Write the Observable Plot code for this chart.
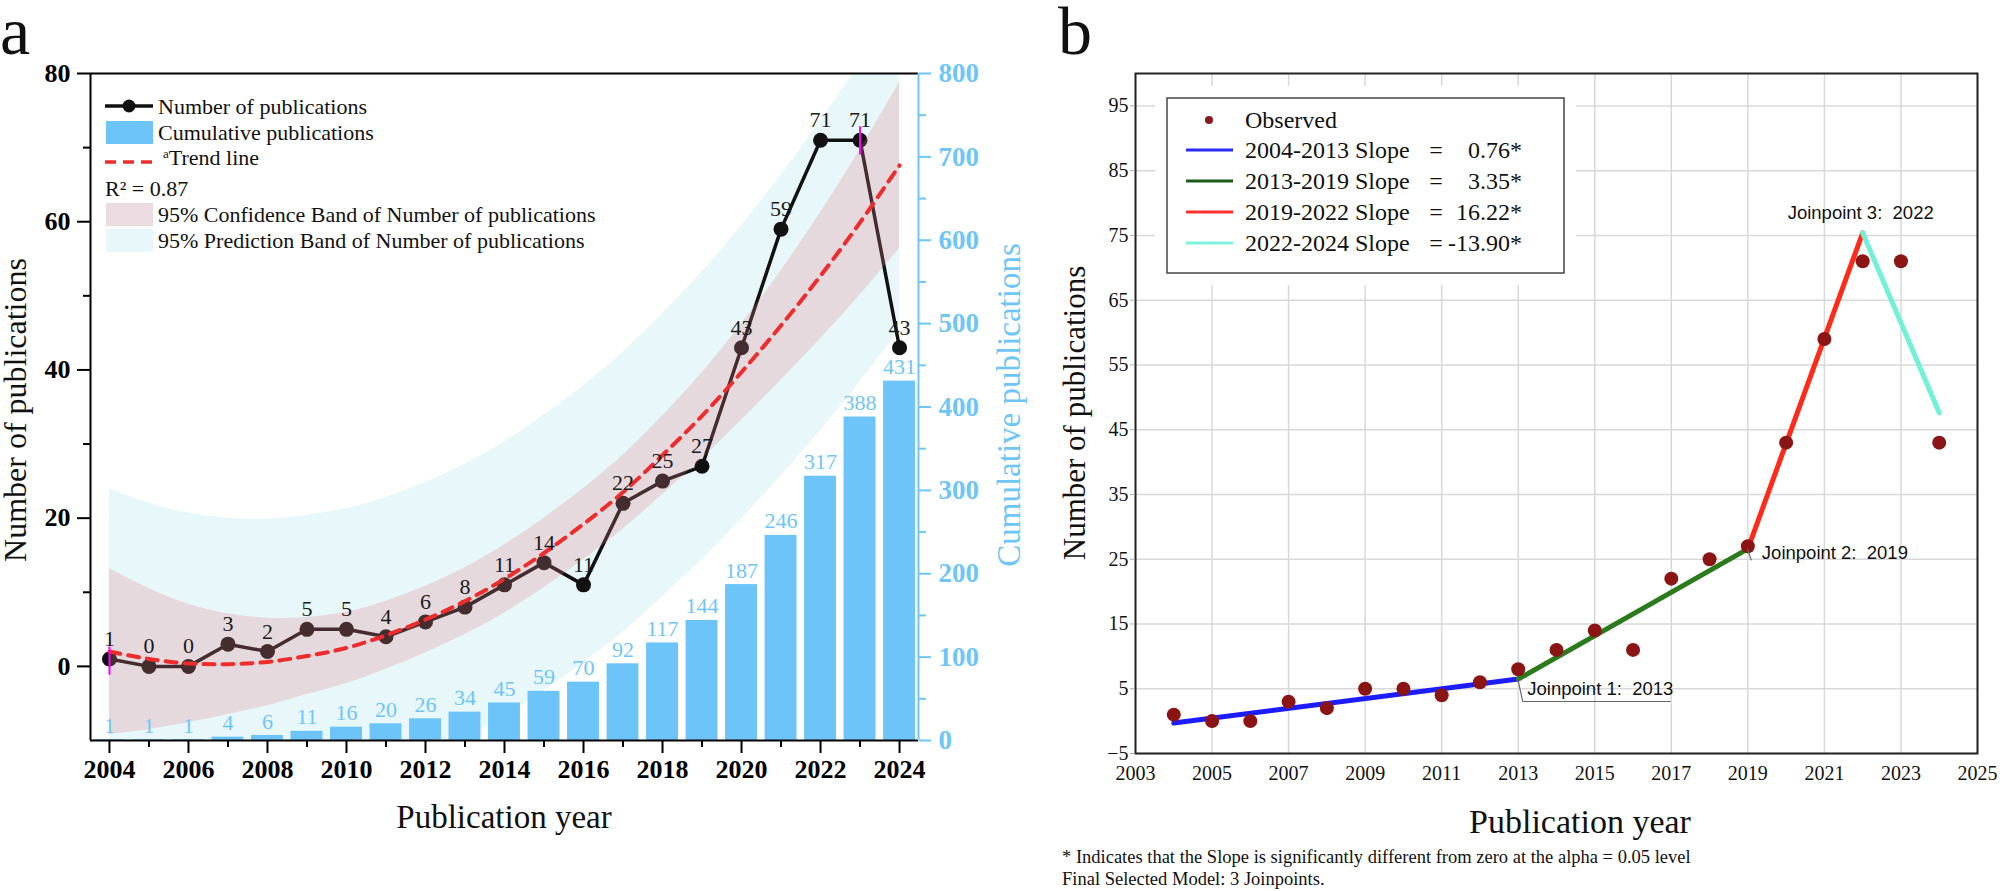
<!DOCTYPE html>
<html><head><meta charset="utf-8">
<script src="https://cdn.jsdelivr.net/npm/d3@7"></script>
<script src="https://cdn.jsdelivr.net/npm/@observablehq/plot@0.6"></script>
<style>
html,body{margin:0;padding:0;background:#fff;}
#wrap{position:relative;width:2000px;height:891px;overflow:hidden;background:#fff;}
#wrap > svg{position:absolute;top:0;margin:0;}
</style></head><body>
<div id="wrap"></div>
<script>
// ---------- data (panel a) ----------
const years = [2004,2005,2006,2007,2008,2009,2010,2011,2012,2013,2014,2015,2016,2017,2018,2019,2020,2021,2022,2023,2024];
const publications = [1,0,0,3,2,5,5,4,6,8,11,14,11,22,25,27,43,59,71,71,43];
const cumulative = [1,1,1,4,6,11,16,20,26,34,45,59,70,92,117,144,187,246,317,388,431];
const trend = [2.0,1.0,0.4,0.3,0.6,1.4,2.5,4.2,6.3,8.8,11.8,15.3,19.2,23.5,28.5,33.8,39.7,46.0,52.7,59.9,67.6];
const confLower = [-9.2,-8.5,-7.6,-6.5,-5.3,-3.8,-2.3,-0.4,1.8,4.3,7.2,10.6,14.4,18.5,23.2,28.0,33.2,38.6,44.2,50.1,56.4];
const confUpper = [13.2,10.5,8.4,7.1,6.5,6.6,7.3,8.8,10.8,13.3,16.4,20.0,24.0,28.5,33.8,39.6,46.2,53.4,61.2,69.7,78.8];
const predLower = [-20.0,-20.0,-19.9,-19.4,-18.7,-17.6,-16.3,-14.4,-12.2,-9.7,-6.7,-3.3,0.5,4.6,9.4,14.4,19.9,25.7,31.8,38.4,45.4];
const predUpper = [24.0,22.0,20.7,20.0,19.9,20.4,21.3,22.8,24.8,27.3,30.3,33.9,37.9,42.4,47.6,53.2,59.5,66.3,73.6,81.4,89.8];
const errYears = [2004, 2023];
const errLow = [-1.2, 69.0];
const errHigh = [2.6, 72.8];
const xTicksA = [2004,2006,2008,2010,2012,2014,2016,2018,2020,2022,2024];
const xMinorA = [2005,2007,2009,2011,2013,2015,2017,2019,2021,2023];
const yTicksLeft = [0,20,40,60,80];
const yMinorLeft = [10,30,50,70];
const yTicksRight = [0,100,200,300,400,500,600,700,800];
const yMinorRight = [50,150,250,350,450,550,650,750];
const xDomainA = [2003.52, 2024.48];
const yDomainLeft = [-10, 80];
const yDomainRight = [0, 800];

// ---------- data (panel b) ----------
const segLabels = ["2004-2013","2013-2019","2019-2022","2022-2024"];
const segSlopes = ["0.76*","3.35*","16.22*","-13.90*"];
const joinYears = [2004, 2013, 2019, 2022, 2024];
const joinValues = [-0.3, 6.5, 26.6, 75.4, 47.6];
const jpLabels = ["Joinpoint 1:\u00a0 2013","Joinpoint 2:\u00a0 2019","Joinpoint 3:\u00a0 2022"];
const xTicksB = [2003,2005,2007,2009,2011,2013,2015,2017,2019,2021,2023,2025];
const yTicksB = [-5,5,15,25,35,45,55,65,75,85,95];
const xDomainB = [2003, 2025];
const yDomainB = [-5, 100];

const SERIF = '"Liberation Serif","Times New Roman",serif';
const SANS = '"Liberation Sans",Arial,sans-serif';
const BLUE = "#6cc4f8";
const BLUE_TXT = "#6ec6f7";
const segColors = ["#1c1cff","#2b7a1b","#ff2a1a","#72f0d8"];
const segLegendColors = ["#2a2aff","#1d5a1d","#ff3030","#7ff3dc"];

const cumToLeft = c => yDomainLeft[0] + (c - yDomainRight[0]) * (yDomainLeft[1]-yDomainLeft[0])/(yDomainRight[1]-yDomainRight[0]);
const leftToCum = v => yDomainRight[0] + (v - yDomainLeft[0]) * (yDomainRight[1]-yDomainRight[0])/(yDomainLeft[1]-yDomainLeft[0]);

const tableA = years.map((year,i)=>({year, pub: publications[i], cum: cumulative[i], cumY: cumToLeft(cumulative[i]),
  trend: trend[i], cl: confLower[i], cu: confUpper[i], pl: predLower[i], pu: predUpper[i]}));
const errTable = errYears.map((year,i)=>({year, lo: errLow[i], hi: errHigh[i]}));

const wrap = document.getElementById("wrap");

const plotA = Plot.plot({
  width: 1050, height: 891,
  marginLeft: 90, marginRight: 132, marginTop: 73, marginBottom: 151,
  x: {domain: xDomainA, label: null},
  y: {domain: yDomainLeft, label: null},
  style: {fontFamily: SERIF, background: "transparent", overflow: "visible"},
  marks: [
    Plot.areaY(tableA, {x:"year", y1:"pl", y2:"pu", fill:"#e7f7fa", curve:"natural", clip:true}),
    Plot.rect(tableA, {x1: d=>d.year-0.5, x2: d=>d.year+0.5, insetLeft:3.8, insetRight:3.8, y1: d=>yDomainLeft[0], y2:"cumY", fill:BLUE}),
    Plot.line(tableA, {x:"year", y:"pub", stroke:"#111", strokeWidth:3.5}),
    Plot.dot(tableA, {x:"year", y:"pub", r:7.5, fill:"#111"}),
    Plot.areaY(tableA, {x:"year", y1:"cl", y2:"cu", fill:"#de7e8a", fillOpacity:0.25, curve:"natural", clip:true}),
    Plot.line(tableA, {x:"year", y:"trend", stroke:"#ee2c2c", strokeWidth:4, strokeDasharray:"11,8", curve:"natural"}),
    Plot.ruleX(errTable, {x:"year", y1:"lo", y2:"hi", stroke:"#ff00ff", strokeWidth:2}),
    Plot.text(tableA, {x:"year", y:"pub", text: d=>String(d.pub), dy:-20, fontSize:22, fill:"#1a1a1a"}),
    Plot.text(tableA, {x:"year", y:"cumY", text: d=>String(d.cum), dy:-14, fontSize:22, fill:BLUE_TXT}),
    Plot.ruleY([yDomainLeft[1]], {stroke:"#000", strokeWidth:2}),
    Plot.ruleY([yDomainLeft[0]], {stroke:"#000", strokeWidth:2}),
    Plot.ruleX([xDomainA[0]], {stroke:"#000", strokeWidth:2}),
    Plot.ruleX([xDomainA[1]], {stroke:BLUE_TXT, strokeWidth:2}),
    Plot.axisX(xTicksA, {label:null, tickSize:13, tickPadding:6, fontSize:26, fontWeight:"bold", tickFormat: d=>String(d), strokeWidth:2, color:"#000"}),
    Plot.axisX(xMinorA, {label:null, tickSize:7, tickFormat: () => "", strokeWidth:2, color:"#000"}),
    Plot.axisY(yTicksLeft, {label:null, tickSize:13, tickPadding:7, fontSize:26, fontWeight:"bold", strokeWidth:2, color:"#000"}),
    Plot.axisY(yMinorLeft, {label:null, tickSize:7, tickFormat: () => "", strokeWidth:2, color:"#000"}),
    Plot.axisY(yTicksRight.map(cumToLeft), {label:null, anchor:"right", tickSize:12, tickPadding:8, fontSize:27, fontWeight:"bold", strokeWidth:2, color:BLUE_TXT, tickFormat: d=>String(Math.round(leftToCum(d)))}),
    Plot.axisY(yMinorRight.map(cumToLeft), {label:null, anchor:"right", tickSize:7, tickFormat: () => "", strokeWidth:2, color:BLUE_TXT})
  ]
});
plotA.style.left = "0px";
wrap.appendChild(plotA);

// ---------- panel b ----------
const obsTable = years.map((year,i)=>({year, value: publications[i]}));
const segTable = [];
for (let i = 0; i < segLabels.length; i++) {
  segTable.push({seg:i, year: joinYears[i], value: joinValues[i], color: segColors[i]});
  segTable.push({seg:i, year: joinYears[i+1], value: joinValues[i+1], color: segColors[i]});
}
const jpTable = jpLabels.map((label,i)=>({label, year: joinYears[i+1], value: joinValues[i+1]}));

const plotB = Plot.plot({
  width: 950, height: 891,
  marginLeft: 85, marginRight: 23, marginTop: 73, marginBottom: 138,
  x: {domain: xDomainB, label: null},
  y: {domain: yDomainB, label: null},
  color: {type: "identity"},
  style: {fontFamily: SERIF, background: "transparent", overflow: "visible"},
  marks: [
    Plot.gridX(xTicksB, {stroke:"#d9d9d9", strokeOpacity:1, strokeWidth:1.5}),
    Plot.gridY(yTicksB, {stroke:"#d9d9d9", strokeOpacity:1, strokeWidth:1.5}),
    Plot.line(segTable, {x:"year", y:"value", z:"seg", stroke:"color", strokeWidth:5}),
    Plot.dot(obsTable, {x:"year", y:"value", r:7, fill:"#8b1414"}),
    Plot.frame({stroke:"#222", strokeWidth:2}),
    Plot.axisX(xTicksB, {label:null, tickSize:0, tickPadding:12, fontSize:20, tickFormat: d=>String(d), color:"#111"}),
    Plot.axisY(yTicksB, {label:null, tickSize:5, tickPadding:2, fontSize:20, color:"#111", stroke:"#aaa"}),
    Plot.text([jpTable[0]], {x:"year", y:"value", text:"label", dx:9, dy:10, textAnchor:"start", fontSize:18.5, fontFamily:SANS, fill:"#111"}),
    Plot.text([jpTable[1]], {x:"year", y:"value", text:"label", dx:14, dy:4, textAnchor:"start", fontSize:18.5, fontFamily:SANS, fill:"#111"}),
    Plot.text([jpTable[2]], {x:"year", y:"value", text:"label", dx:-2, dy:-20, textAnchor:"middle", fontSize:18.5, fontFamily:SANS, fill:"#111"})
  ]
});
plotB.style.left = "1050px";
wrap.appendChild(plotB);

// leader lines for joinpoints (through Plot's scales)
{
  const sx = plotB.scale("x"), sy = plotB.scale("y");
  const g = d3.select(plotB).append("g").attr("fill","none").attr("stroke","#666").attr("stroke-width",1.2);
  const x1 = sx.apply(jpTable[0].year), y1 = sy.apply(jpTable[0].value);
  g.append("path").attr("d", `M${x1},${y1}L${x1+5},${y1+23}H${x1+153}`);
  const x2 = sx.apply(jpTable[1].year), y2 = sy.apply(jpTable[1].value);
  g.append("path").attr("d", `M${x2},${y2}L${x2+4},${y2+12}`);
}

// legend b
{
  const ox = 1050;
  const g = d3.select(plotB).append("g").attr("text-anchor","start").attr("font-family",SERIF).attr("font-size",24).attr("fill","#111");
  g.append("rect").attr("x",1155-ox).attr("y",86).attr("width",421).attr("height",199).attr("fill","#fff");
  g.append("rect").attr("x",1167-ox).attr("y",98).attr("width",397).attr("height",175).attr("fill","#fff").attr("stroke","#444").attr("stroke-width",1.5);
  const rows = [120,150,181,212,243];
  g.append("circle").attr("cx",1209-ox).attr("cy",rows[0]).attr("r",4).attr("fill","#8b1414");
  g.append("text").attr("x",1245-ox).attr("y",rows[0]).attr("dy","0.35em").text("Observed");
  segLabels.forEach((lab,i)=>{
    const y = rows[i+1];
    g.append("line").attr("x1",1186-ox).attr("x2",1233-ox).attr("y1",y).attr("y2",y).attr("stroke",segLegendColors[i]).attr("stroke-width",3);
    g.append("text").attr("x",1245-ox).attr("y",y).attr("dy","0.35em").text(lab + " Slope");
    g.append("text").attr("x",1436-ox).attr("y",y).attr("dy","0.35em").attr("text-anchor","middle").text("=");
    g.append("text").attr("x",1522-ox).attr("y",y).attr("dy","0.35em").attr("text-anchor","end").text(segSlopes[i]);
  });
}

// legend a
{
  const g = d3.select(plotA).append("g").attr("text-anchor","start").attr("font-family",SERIF).attr("font-size",22).attr("fill","#111");
  const r = [106,132,162,188,214,240];
  g.append("line").attr("x1",105).attr("x2",153).attr("y1",r[0]).attr("y2",r[0]).attr("stroke","#111").attr("stroke-width",3.5);
  g.append("circle").attr("cx",129).attr("cy",r[0]).attr("r",6.5).attr("fill","#111");
  g.append("text").attr("x",158).attr("y",r[0]).attr("dy","0.35em").text("Number of publications");
  g.append("rect").attr("x",106).attr("y",r[1]-11).attr("width",47).attr("height",23).attr("fill",BLUE);
  g.append("text").attr("x",158).attr("y",r[1]).attr("dy","0.35em").text("Cumulative publications");
  g.append("line").attr("x1",105).attr("x2",152).attr("y1",r[2]).attr("y2",r[2]).attr("stroke","#ee2c2c").attr("stroke-width",3.5).attr("stroke-dasharray","11,7");
  const t = g.append("text").attr("x",163).attr("y",r[2]).attr("dy","0.35em");
  t.append("tspan").attr("font-size",13).attr("dy","-0.3em").text("a");
  t.append("tspan").attr("dy","0.3em").text("Trend line");
  g.append("text").attr("x",105).attr("y",r[3]).attr("dy","0.35em").text("R\u00b2 = 0.87");
  g.append("rect").attr("x",106).attr("y",r[4]-11).attr("width",47).attr("height",23).attr("fill","#ecdbe0");
  g.append("text").attr("x",158).attr("y",r[4]).attr("dy","0.35em").text("95% Confidence Band of Number of publications");
  g.append("rect").attr("x",106).attr("y",r[5]-11).attr("width",47).attr("height",23).attr("fill","#e7f7fa");
  g.append("text").attr("x",158).attr("y",r[5]).attr("dy","0.35em").text("95% Prediction Band of Number of publications");
}

// overlay texts
{
  const svg = d3.select(wrap).append("svg").attr("width",2000).attr("height",891)
    .style("left","0px").style("pointer-events","none").attr("font-family",SERIF).attr("fill","#111");
  svg.append("text").attr("x",0).attr("y",54).attr("font-size",68).text("a");
  svg.append("text").attr("x",1058).attr("y",54).attr("font-size",68).text("b");
  svg.append("text").attr("transform","translate(26,410) rotate(-90)").attr("text-anchor","middle").attr("font-size",32).text("Number of publications");
  svg.append("text").attr("transform","translate(1020,405) rotate(-90)").attr("text-anchor","middle").attr("font-size",33).attr("fill",BLUE_TXT).text("Cumulative publications");
  svg.append("text").attr("x",504).attr("y",828).attr("text-anchor","middle").attr("font-size",33).text("Publication year");
  svg.append("text").attr("transform","translate(1085,413) rotate(-90)").attr("text-anchor","middle").attr("font-size",31).text("Number of publications");
  svg.append("text").attr("x",1580).attr("y",833).attr("text-anchor","middle").attr("font-size",34).text("Publication year");
  svg.append("text").attr("x",1062).attr("y",863).attr("font-size",18.5).text("* Indicates that the Slope is significantly different from zero at the alpha = 0.05 level");
  svg.append("text").attr("x",1062).attr("y",885).attr("font-size",18.5).text("Final Selected Model: 3 Joinpoints.");
}
</script>
</body></html>
